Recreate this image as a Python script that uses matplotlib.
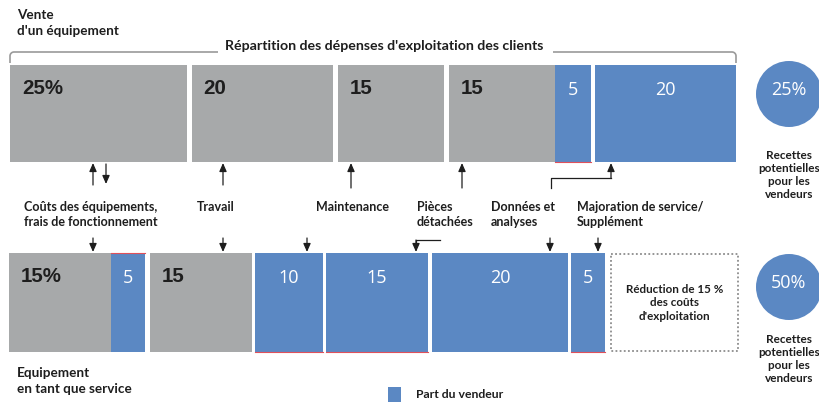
import numpy as np
import matplotlib
matplotlib.use("Agg")
import matplotlib.pyplot as plt
from matplotlib.patches import Rectangle, Circle

# ---------------- data ----------------
top_values = [25, 20, 15, 15, 5, 20]
top_labels = ["25%", "20", "15", "15", "5", "20"]
top_vendor = [False, False, False, False, True, True]

bottom_values = [15, 5, 15, 10, 15, 20, 5]
bottom_labels = ["15%", "5", "15", "10", "15", "20", "5"]
bottom_vendor = [False, True, False, True, True, True, True]

categories = ["Coûts des équipements,\nfrais de fonctionnement", "Travail", "Maintenance",
              "Pièces\ndétachées", "Données et\nanalyses", "Majoration de service/\nSupplément"]
reduction_text = "Réduction de 15 %\ndes coûts\nd'exploitation"
revenue_labels = ["25%", "50%"]
row_titles = ["Vente\nd'un équipement", "Equipement\nen tant que service"]
header = "Répartition des dépenses d'exploitation des clients"
legend_label = "Part du vendeur"
circle_caption = "Recettes\npotentielles\npour les\nvendeurs"

# ---------------- style / layout ----------------
GRAY = "#A7A9AA"
BLUE = "#5B88C3"
DARK = "#1E1E1E"
RED = "#E0505A"
LINE_GRAY = "#9A9A9A"
LAB_FONT = ["Lato", "DejaVu Sans"]
NUM_FONT = ["Liberation Sans", "DejaVu Sans"]
WNUM_FONT = ["Open Sans", "DejaVu Sans"]

fig = plt.figure(figsize=(8.2, 4.05), dpi=100)
ax = fig.add_axes([0, 0, 1, 1])
ax.set_xlim(0, 820)
ax.set_ylim(405, 0)
ax.axis("off")

top_scale, top_x0, top_gaps = 7.07, 10, [5, 5, 5, 0, 4]
bot_scale, bot_x0, bot_gaps = 6.8, 9, [0, 5, 3, 3, 4, 3]
top_y, top_h = 113.5, 97
bot_y, bot_h = 302.5, 99


def lefts(values, x0, scale, gaps):
    out, x = [], x0
    for i, v in enumerate(values):
        out.append(x)
        x += v * scale + (gaps[i] if i < len(gaps) else 0)
    return out


def draw_row(values, labels, vendor, x0, scale, gaps, yc, h):
    L = lefts(values, x0, scale, gaps)
    W = [v * scale for v in values]
    cols = [BLUE if b else GRAY for b in vendor]
    ax.barh([yc] * len(values), W, left=L, height=h, color=cols, linewidth=0)
    for l, w, lab, b in zip(L, W, labels, vendor):
        if b:
            ax.text(l + w / 2, yc - h / 2 + 25, lab, color="white", fontsize=13,
                    family=WNUM_FONT, ha="center", va="center")
        else:
            ax.text(l + 12, yc - h / 2 + 24, lab, color=DARK, fontsize=14.8,
                    family=NUM_FONT, fontweight="bold", ha="left", va="center")
    return L, W


tL, tW = draw_row(top_values, top_labels, top_vendor, top_x0, top_scale, top_gaps, top_y, top_h)
bL, bW = draw_row(bottom_values, bottom_labels, bottom_vendor, bot_x0, bot_scale, bot_gaps, bot_y, bot_h)

# thin red edges (artefacts of original)
ttop, tbot = top_y - top_h / 2, top_y + top_h / 2
btop, bbot = bot_y - bot_h / 2, bot_y + bot_h / 2
ax.plot([tL[4], tL[4] + tW[4]], [tbot, tbot], color=RED, lw=0.8)
ax.plot([bL[1], bL[1] + bW[1]], [btop, btop], color=RED, lw=0.8)
for i in (3, 4, 6):
    ax.plot([bL[i], bL[i] + bW[i]], [bbot, bbot], color=RED, lw=0.8)

# dotted reduction box
box_l = bL[-1] + bW[-1] + 6
box_r = tL[-1] + tW[-1] + 2
ax.add_patch(Rectangle((box_l, btop + 1), box_r - box_l, bot_h - 2, fill=False,
                       edgecolor="#8C8C8C", lw=1.3, linestyle=(0, (1, 1.3))))
ax.text((box_l + box_r) / 2, 303, reduction_text, ha="center", va="center",
        fontsize=8.4, family=LAB_FONT, fontweight="bold", color=DARK, linespacing=1.25)

# circles
for yc, lab, cap_y in [(94, revenue_labels[0], 175), (287, revenue_labels[1], 359)]:
    ax.add_patch(Circle((789, yc), 33, color=BLUE, lw=0))
    ax.text(789, yc - 4, lab, color="white", fontsize=13, family=WNUM_FONT,
            ha="center", va="center")
    ax.text(789, cap_y, circle_caption, ha="center", va="center", fontsize=8.5,
            family=LAB_FONT, fontweight="bold", color=DARK, linespacing=1.2)

# titles
ax.text(17, 23, row_titles[0], ha="left", va="center", fontsize=9.7, family=LAB_FONT,
        fontweight="bold", color=DARK, linespacing=1.35)
ax.text(17, 381, row_titles[1], ha="left", va="center", fontsize=9.7, family=LAB_FONT,
        fontweight="bold", color=DARK, linespacing=1.35)
ax.text(384, 46, header, ha="center", va="center", fontsize=10.2, family=LAB_FONT,
        fontweight="bold", color=DARK)

# header bracket with rounded corners
r = 4
by = 52
a = np.linspace(0, np.pi / 2, 10)
xl = np.r_[top_x0, top_x0 + r - r * np.cos(a), 218]
yl = np.r_[63, by + r - r * np.sin(a), by]
ax.plot(xl, yl, color=LINE_GRAY, lw=1.2, solid_capstyle="butt")
xe = tL[-1] + tW[-1]
xr = np.r_[553, xe - r + r * np.cos(a[::-1]), xe]
yr = np.r_[by, by + r - r * np.sin(a[::-1]), 63]
ax.plot(xr, yr, color=LINE_GRAY, lw=1.2, solid_capstyle="butt")

# category labels
cat_pos = [(24, 214.5), (197, 207), (316, 207), (417, 214.5), (491, 214.5), (577, 214.5)]
for (x, y), lab in zip(cat_pos, categories):
    if "\n" not in lab:
        y = 207
    ax.text(x, y, lab, ha="left", va="center", fontsize=9, family=LAB_FONT,
            fontweight="bold", color=DARK, linespacing=1.25)

# arrows
ap = dict(arrowstyle="-|>,head_length=0.5,head_width=0.22", lw=0.9, color=DARK,
          shrinkA=0, shrinkB=0, mutation_scale=10)


def arrow(x0, y0, x1, y1):
    ax.annotate("", xy=(x1, y1), xytext=(x0, y0), arrowprops=ap)


# up arrows into top row
for x, ylow in [(93, 185), (223, 185), (351, 188), (462, 188)]:
    arrow(x, ylow, x, tbot + 1)
arrow(106, tbot + 2, 106, 184)  # down arrow
# Données elbow
ax.plot([551, 551, 611], [188, 178, 178], color=DARK, lw=0.9)
arrow(611, 178, 611, tbot + 1)
# down arrows into bottom row
for x in [93, 223, 307, 550, 598]:
    arrow(x, 238, x, btop - 1)
# Pièces elbow
ax.plot([440, 416, 416], [240, 240, 242], color=DARK, lw=0.9)
arrow(416, 240, 416, btop - 1)

# legend
ax.add_patch(Rectangle((388, 387), 13, 15, color=BLUE, lw=0))
ax.text(416, 395, legend_label, ha="left", va="center", fontsize=8.8, family=LAB_FONT,
        fontweight="bold", color=DARK)

fig.savefig("out.png", dpi=100)
